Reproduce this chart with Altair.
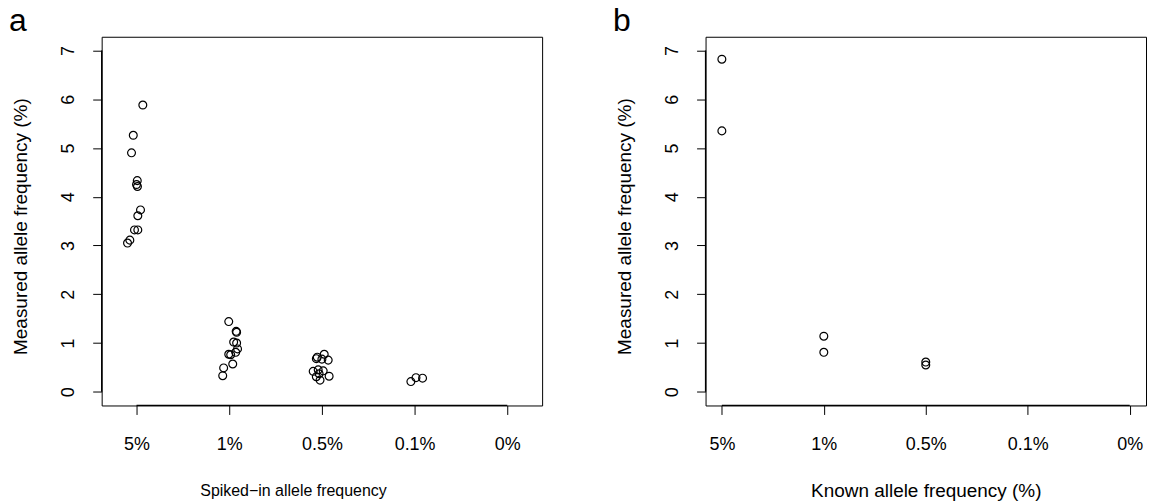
import altair as alt
import pandas as pd

# Panel a: spiked-in allele frequency groups (x position = group index with jitter)
a_x5 = [1.068, 0.965, 0.946, 1.008, 1.000, 1.010, 1.043, 1.014, 0.978, 1.014, 0.928, 0.903]
a_y5 = [5.88, 5.26, 4.90, 4.33, 4.25, 4.21, 3.73, 3.61, 3.32, 3.32, 3.11, 3.05]
a_x1 = [1.995, 2.075, 2.080, 2.048, 2.080, 2.090, 1.995, 2.016, 2.070, 2.038, 1.940, 1.930]
a_y1 = [1.44, 1.24, 1.22, 1.02, 1.00, 0.88, 0.77, 0.76, 0.81, 0.57, 0.49, 0.33]
a_x05 = [2.950, 2.940, 3.025, 3.000, 3.068, 2.906, 2.960, 3.014, 3.078, 2.940, 2.980, 2.970]
a_y05 = [0.71, 0.68, 0.77, 0.67, 0.65, 0.42, 0.45, 0.43, 0.32, 0.31, 0.24, 0.37]
a_x01 = [3.960, 4.015, 4.086]
a_y01 = [0.21, 0.29, 0.28]

# Panel b: known allele frequency
b_x = [1, 1, 2, 2, 3, 3]
b_y = [6.82, 5.35, 1.14, 0.81, 0.61, 0.55]

tick_labels = ["5%", "1%", "0.5%", "0.1%", "0%"]
y_ticks = [0, 1, 2, 3, 4, 5, 6, 7]

df_a = pd.DataFrame({"x": a_x5 + a_x1 + a_x05 + a_x01,
                     "y": a_y5 + a_y1 + a_y05 + a_y01})
df_b = pd.DataFrame({"x": b_x, "y": b_y})
one = pd.DataFrame({"k": [0]})

W, H = 442, 370
FONT = "Liberation Sans"
FS = 18
label_expr = "[" + ",".join("'%s'" % t for t in tick_labels) + "][datum.value - 1]"


def panel(df, xdomain, xtitle, xtitle_x, xtitle_fs, letter):
    xs = alt.Scale(domain=xdomain, nice=False, zero=False)
    ys = alt.Scale(domain=[-0.28, 7.28], nice=False, zero=False)
    xaxis = alt.Axis(values=[1, 2, 3, 4, 5], labelExpr=label_expr, title=xtitle,
                     domain=False, grid=False, ticks=True, tickSize=9, tickColor="#000",
                     labelFont=FONT, labelFontSize=FS, labelColor="#000", labelPadding=21,
                     titleFont=FONT, titleFontSize=xtitle_fs, titleFontWeight="normal",
                     titleColor="#000", titleX=xtitle_x, titleY=85, titleAlign="center",
                     titleBaseline="middle")
    yaxis = alt.Axis(values=y_ticks, title="Measured allele frequency (%)",
                     domain=False, grid=False, ticks=True, tickSize=9, tickColor="#000",
                     labelFont=FONT, labelFontSize=FS, labelColor="#000", labelAngle=270,
                     labelAlign="center", labelBaseline="alphabetic", labelPadding=19,
                     titleFont=FONT, titleFontSize=19, titleFontWeight="normal", titleColor="#000",
                     titleAngle=270, titleX=-81, titleY=190, titleAlign="center",
                     titleBaseline="middle")
    pts = alt.Chart(df).mark_point(shape="circle", filled=False, size=62, strokeWidth=1.2,
                                   color="#000", opacity=1).encode(
        x=alt.X("x:Q", scale=xs, axis=xaxis),
        y=alt.Y("y:Q", scale=ys, axis=yaxis),
    )
    xline = alt.Chart(one).mark_rule(color="#000", strokeWidth=1.3).encode(
        x=alt.datum(1), x2=alt.datum(5), y=alt.value(H))
    yline = alt.Chart(one).mark_rule(color="#000", strokeWidth=1.3).encode(
        y=alt.datum(0), y2=alt.datum(7), x=alt.value(0))
    lab = alt.Chart(one).mark_text(font=FONT, fontSize=32, fontWeight="normal", align="center",
                                   baseline="alphabetic", color="#000").encode(
        x=alt.value(-84), y=alt.value(-6), text=alt.value(letter))
    return alt.layer(pts, xline, yline, lab).properties(width=W, height=H)


pa = panel(df_a, [0.624, 5.376], "Spiked\u2212in allele frequency", 192, 16, "a")
pb = panel(df_b, [0.84, 5.16], "Known allele frequency (%)", W / 2, 19, "b")

chart = alt.hconcat(pa, pb, spacing=69).properties(
    padding={"left": 0, "top": -5, "right": 0, "bottom": 0},
    background="#ffffff",
).configure_view(stroke="#000", strokeWidth=1)

chart.save("out.html", embed_options={"renderer": "svg", "actions": False})
